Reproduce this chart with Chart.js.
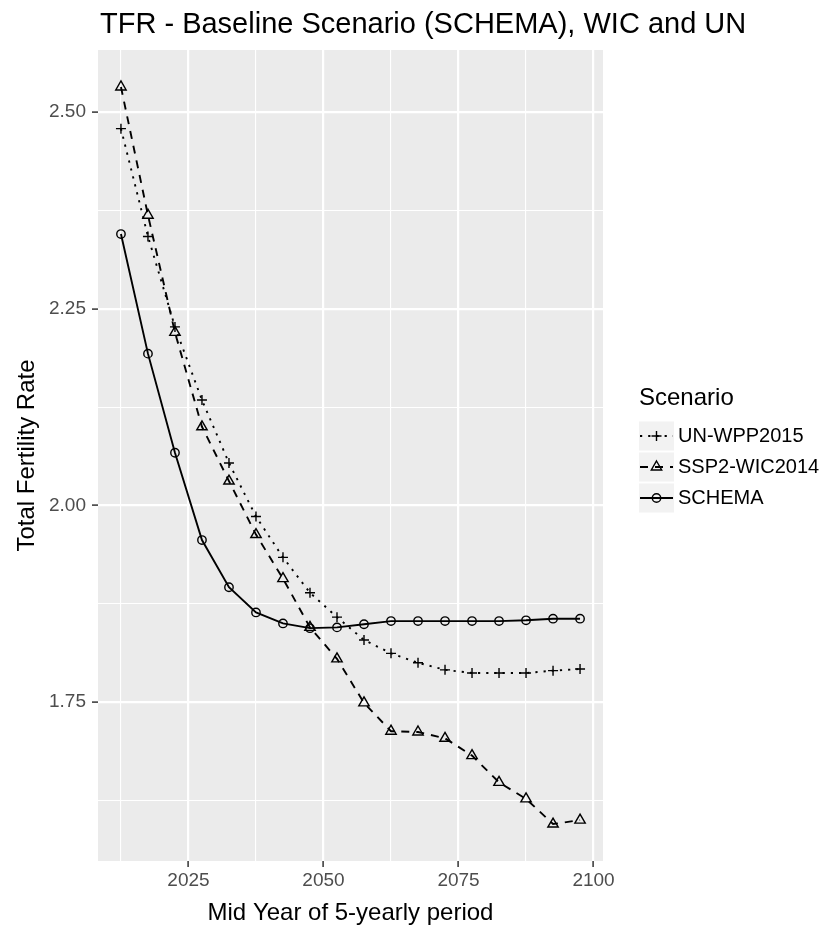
<!DOCTYPE html>
<html>
<head>
<meta charset="utf-8">
<title>TFR - Baseline Scenario (SCHEMA), WIC and UN</title>
<script src="https://cdn.jsdelivr.net/npm/chart.js@4.4.1/dist/chart.umd.min.js"></script>
<style>
  html, body { margin: 0; padding: 0; background: #fff; }
  #wrap { width: 822px; height: 925px; position: relative; }
</style>
</head>
<body>
<div id="wrap"><canvas id="tfrChart"></canvas></div>
<script>
// mid years of the 5-year periods
const years = [2012.5, 2017.5, 2022.5, 2027.5, 2032.5, 2037.5, 2042.5, 2047.5, 2052.5,
               2057.5, 2062.5, 2067.5, 2072.5, 2077.5, 2082.5, 2087.5, 2092.5, 2097.5];

const unWpp2015 = [2.479, 2.342, 2.227, 2.134, 2.054, 1.986, 1.934, 1.889, 1.858,
                   1.829, 1.812, 1.800, 1.791, 1.787, 1.787, 1.787, 1.790, 1.792];
const ssp2Wic2014 = [2.532, 2.369, 2.220, 2.100, 2.031, 1.963, 1.907, 1.845, 1.805,
                     1.749, 1.713, 1.712, 1.704, 1.682, 1.648, 1.627, 1.595, 1.600];
const schema = [2.345, 2.193, 2.067, 1.956, 1.896, 1.864, 1.850, 1.844, 1.845,
                1.849, 1.853, 1.853, 1.853, 1.853, 1.853, 1.854, 1.856, 1.856];

const seriesNames = ['UN-WPP2015', 'SSP2-WIC2014', 'SCHEMA'];

// axis ticks (major ones get labels, minor ones only a thin grid line)
const xMajor = [2025, 2050, 2075, 2100];
const xTickLabels = ['2025', '2050', '2075', '2100'];
const xMinor = [2012.5, 2037.5, 2062.5, 2087.5];
const yMajor = [1.75, 2.00, 2.25, 2.50];
const yTickLabels = ['1.75', '2.00', '2.25', '2.50'];
const yMinor = [1.625, 1.875, 2.125, 2.375];

const FONT = "'Liberation Sans', Arial, Helvetica, sans-serif";
Chart.defaults.font.family = FONT;

function pts(vals) {
  return years.map(function(yr, i) { return { x: yr, y: vals[i] }; });
}
function isMajor(list, v) {
  return list.some(function(m) { return Math.abs(m - v) < 1e-6; });
}
function labelFor(list, labels, v) {
  for (let i = 0; i < list.length; i++) {
    if (Math.abs(list[i] - v) < 1e-6) return labels[i];
  }
  return '';
}

// gray panel like ggplot
const panelBg = {
  id: 'panelBg',
  beforeDraw(chart) {
    const a = chart.chartArea, ctx = chart.ctx;
    ctx.save();
    ctx.fillStyle = '#EBEBEB';
    ctx.fillRect(a.left, a.top, a.right - a.left, a.bottom - a.top);
    ctx.restore();
  }
};

// title + legend drawn on the canvas
const extras = {
  id: 'extras',
  afterDraw(chart) {
    const ctx = chart.ctx;
    ctx.save();
    ctx.fillStyle = '#000';
    ctx.textBaseline = 'alphabetic';
    ctx.textAlign = 'left';
    ctx.font = '29px ' + FONT;
    ctx.fillText('TFR - Baseline Scenario (SCHEMA), WIC and UN', 100, 33);

    ctx.font = '24px ' + FONT;
    ctx.fillText('Scenario', 639, 405);

    chart.data.datasets.forEach(function(ds, i) {
      const cy = 436 + i * 31;
      ctx.fillStyle = '#F2F2F2';
      ctx.fillRect(639, cy - 14.5, 35, 29);
      ctx.strokeStyle = '#000';
      ctx.lineWidth = ds.borderWidth;
      ctx.setLineDash(ds.borderDash);
      ctx.beginPath();
      ctx.moveTo(640, cy);
      ctx.lineTo(673, cy);
      ctx.stroke();
      ctx.setLineDash([]);
      ctx.fillStyle = 'rgba(0,0,0,0)';
      ctx.lineWidth = ds.pointBorderWidth;
      Chart.helpers.drawPoint(ctx, {
        pointStyle: ds.pointStyle, radius: ds.pointRadius,
        rotation: 0, borderWidth: ds.pointBorderWidth
      }, 656.5, cy);
      ctx.fillStyle = '#000';
      ctx.font = '20px ' + FONT;
      ctx.textBaseline = 'middle';
      ctx.fillText(ds.label, 678, cy);
    });
    ctx.restore();
  }
};

function lineSet(label, vals, dash, style, radius) {
  return {
    label: label,
    data: pts(vals),
    borderColor: '#000',
    borderWidth: 1.9,
    borderDash: dash,
    tension: 0,
    fill: false,
    pointStyle: style,
    pointRadius: radius,
    pointBorderColor: '#000',
    pointBackgroundColor: 'rgba(0,0,0,0)',
    pointBorderWidth: 1.4
  };
}

new Chart(document.getElementById('tfrChart'), {
  type: 'line',
  data: {
    datasets: [
      lineSet(seriesNames[0], unWpp2015, [2.2, 6], 'cross', 5),
      lineSet(seriesNames[1], ssp2Wic2014, [8, 7], 'triangle', 6),
      lineSet(seriesNames[2], schema, [], 'circle', 4.2)
    ]
  },
  options: {
    responsive: true,
    maintainAspectRatio: false,
    animation: false,
    layout: { padding: { top: 50, right: 219, bottom: 0, left: 0 } },
    plugins: { legend: { display: false }, tooltip: { enabled: false } },
    scales: {
      x: {
        type: 'linear',
        min: 2008.25,
        max: 2101.75,
        afterBuildTicks: function(s) {
          s.ticks = xMinor.concat(xMajor).sort(function(a, b) { return a - b; })
            .map(function(v) { return { value: v }; });
        },
        afterFit: function(s) { s.height = 64; },
        border: { display: false },
        grid: {
          color: '#FFFFFF',
          lineWidth: function(c) { return isMajor(xMajor, c.tick.value) ? 2.2 : 1.1; },
          tickLength: 6,
          tickWidth: 1.5,
          tickColor: function(c) { return isMajor(xMajor, c.tick.value) ? '#333333' : 'rgba(0,0,0,0)'; }
        },
        ticks: {
          autoSkip: false,
          maxRotation: 0,
          color: '#4D4D4D',
          font: { size: 19 },
          padding: 2,
          callback: function(v) { return labelFor(xMajor, xTickLabels, v); }
        },
        title: {
          display: true,
          text: 'Mid Year of 5-yearly period',
          color: '#000',
          font: { size: 24, lineHeight: 1 },
          padding: { top: 0, bottom: 0 }
        }
      },
      y: {
        type: 'linear',
        min: 1.548,
        max: 2.579,
        afterBuildTicks: function(s) {
          s.ticks = yMinor.concat(yMajor).sort(function(a, b) { return a - b; })
            .map(function(v) { return { value: v }; });
        },
        afterFit: function(s) { s.width = 98; },
        border: { display: false },
        grid: {
          color: '#FFFFFF',
          lineWidth: function(c) { return isMajor(yMajor, c.tick.value) ? 2.2 : 1.1; },
          tickLength: 6,
          tickWidth: 1.5,
          tickColor: function(c) { return isMajor(yMajor, c.tick.value) ? '#333333' : 'rgba(0,0,0,0)'; }
        },
        ticks: {
          autoSkip: false,
          color: '#4D4D4D',
          font: { size: 19 },
          padding: 6,
          callback: function(v) { return labelFor(yMajor, yTickLabels, v); }
        },
        title: {
          display: true,
          text: 'Total Fertility Rate',
          color: '#000',
          font: { size: 24, lineHeight: 1 },
          padding: { top: 15, bottom: 0 }
        }
      }
    }
  },
  plugins: [panelBg, extras]
});
</script>
</body>
</html>
